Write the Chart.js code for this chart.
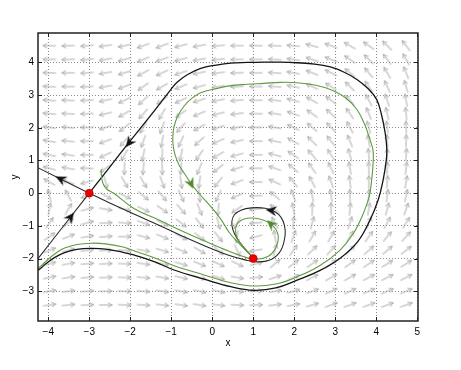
<!DOCTYPE html>
<html><head><meta charset="utf-8">
<script src="https://cdn.jsdelivr.net/npm/chart.js@4.4.1/dist/chart.umd.min.js"></script>
<style>html,body{margin:0;padding:0;background:#fff}</style>
</head><body>
<canvas id="c" width="461" height="370"></canvas>
<script>
// ---------- axes ----------
const xMin = -4.25, xMax = 5.02, yMin = -3.91, yMax = 4.9;
const xTicks = [-4, -3, -2, -1, 0, 1, 2, 3, 4, 5];
const yTicks = [-3, -2, -1, 0, 1, 2, 3, 4];

// ---------- direction field (grid + arrow angles in degrees) ----------
const fieldX = [-3.97,-3.51,-3.05,-2.60,-2.14,-1.68,-1.22,-0.76,-0.31,0.15,0.61,1.07,1.53,1.98,2.44,2.90,3.36,3.82,4.27,4.73];
const fieldY = [4.51,4.09,3.68,3.26,2.84,2.43,2.01,1.59,1.17,0.76,0.34,-0.08,-0.49,-0.91,-1.33,-1.75,-2.16,-2.58,-3.00,-3.42];
const fieldAngles = [
 [180,182,185,188,192, 200,200,195,190,185, 180,180,178,175,165, 160,150,145,135,128],
 [180,182,185,190,195, 203,200,195,190,186, 181,180,177,172,162, 158,145,135,128,120],
 [178,180,184,190,197, 208,205,198,192,187, 182,180,176,170,158, 153,140,130,120,112],
 [177,179,183,190,200, 215,210,202,195,189, 183,180,175,168,155, 148,135,125,115,106],
 [176,178,182,192,205, 222,215,205,197,191, 185,180,174,165,150, 143,130,118,108,100],
 [175,177,182,193,210, 228,240,215,203,194, 187,180,172,160,145, 138,124,112,103,95],
 [173,176,180,197,218, 238,250,228,210,198, 190,180,170,155,140, 133,118,105,97,92],
 [170,174,180,200,228, 250,260,245,222,203, 192,180,168,150,135, 128,112,100,93,88],
 [168,172,180,205,240, 258,268,258,235,210, 195,180,165,145,130, 122,105,95,90,85],
 [165,170,178,215,268, 265,272,265,248,218, 198,180,160,140,125, 115,100,92,87,83],
 [150,160,195,285,300, 300,290,278,262,232, 200,180,155,130,118, 110,97,90,85,80],
 [105,118,200,330,333, 320,310,295,275,245, 205,182,140,110,100, 100,92,87,82,78],
 [80,60,15,350,345, 335,325,312,292,265, 215,188,135,100,90, 90,85,80,75,70],
 [55,40,15,3,355, 340,332,322,308,285, 240,185,118,85,75, 75,72,68,62,58],
 [35,22,10,4,0, 345,338,332,322,308, 262,195,100,70,60, 60,58,55,50,48],
 [22,15,8,3,358, 350,343,338,330,318, 295,190,75,55,45, 48,45,42,40,38],
 [15,10,5,2,358, 352,347,343,338,335, 335,15,40,38,35, 38,36,34,32,32],
 [12,8,5,2,358, 354,350,347,344,342, 350,5,18,24,27, 30,29,28,27,27],
 [10,7,4,1,358, 355,352,350,348,348, 355,3,10,16,20, 25,24,23,23,23],
 [8,6,3,0,357, 356,354,352,351,352, 357,2,6,11,15, 20,20,20,20,20]
];

// ---------- trajectories ----------
const blackOrbitX = [-4.35,-4.22,-4.05,-3.85,-3.6,-3.3,-2.96,-2.6,-2.2,-1.91,-1.4,-0.93,-0.2,0.45,1.01,1.55,2.07,2.62,3.12,3.55,3.85,4.05,4.17,4.24,4.26,4.22,4.13,4.01,3.8,3.53,3.22,2.88,2.5,2.07,1.66,1.26,0.85,0.45,0.1,-0.28,-0.6,-0.85,-1.01,-1.5,-2.0,-2.5,-3.0];
const blackOrbitY = [-2.40,-2.33,-2.15,-1.97,-1.82,-1.72,-1.69,-1.71,-1.80,-1.89,-2.10,-2.35,-2.63,-2.86,-2.97,-2.90,-2.66,-2.37,-1.99,-1.48,-0.82,-0.2,0.41,0.95,1.33,1.84,2.40,2.87,3.20,3.48,3.70,3.86,3.95,3.99,4.01,4.01,4.0,3.98,3.92,3.82,3.63,3.40,3.17,2.38,1.6,0.8,0.0];
const greenOrbitX = [-4.35,-4.22,-4.0,-3.8,-3.6,-3.3,-2.96,-2.6,-2.2,-1.91,-1.4,-0.93,-0.2,0.45,1.01,1.55,2.07,2.62,3.12,3.45,3.69,3.83,3.89,3.93,3.92,3.85,3.72,3.53,3.25,2.88,2.5,2.07,1.66,1.26,0.85,0.45,0.1,-0.28,-0.5,-0.69,-0.84,-0.93,-0.96,-0.95,-0.9,-0.8,-0.65,-0.49,-0.3,-0.05,0.2,0.42,0.6,0.78,1.0];
const greenOrbitY = [-2.33,-2.27,-2.02,-1.82,-1.68,-1.57,-1.53,-1.55,-1.64,-1.76,-1.98,-2.22,-2.50,-2.74,-2.84,-2.78,-2.56,-2.22,-1.74,-1.22,-0.61,-0.1,0.41,1.02,1.33,1.63,2.1,2.56,2.92,3.17,3.31,3.38,3.39,3.36,3.33,3.29,3.2,3.07,2.9,2.66,2.36,2.04,1.73,1.43,1.15,0.84,0.55,0.25,-0.04,-0.39,-0.78,-1.21,-1.47,-1.70,-1.97];
const unstableRightX = [-3.0,-2.5,-1.91,-1.3,-0.75,-0.15,0.40,0.80,1.13,1.45,1.68,1.78,1.76,1.68,1.52,1.29,0.96,0.70,0.54,0.48,0.50,0.60,0.78,1.0];
const unstableRightY = [0.0,-0.30,-0.64,-0.98,-1.30,-1.63,-1.90,-2.04,-2.10,-2.02,-1.74,-1.26,-0.98,-0.74,-0.56,-0.46,-0.45,-0.52,-0.66,-0.86,-1.10,-1.37,-1.67,-1.97];
const greenSpiralX = [-2.71,-2.70,-2.66,-2.57,-2.40,-1.91,-1.3,-0.75,-0.15,0.40,0.72,1.05,1.37,1.54,1.61,1.59,1.50,1.34,1.13,0.90,0.72,0.60,0.57,0.62,0.78,1.0];
const greenSpiralY = [0.72,0.50,0.28,0.12,0.0,-0.47,-0.82,-1.15,-1.48,-1.77,-1.92,-2.03,-1.93,-1.70,-1.42,-1.20,-1.02,-0.87,-0.78,-0.76,-0.82,-0.96,-1.16,-1.40,-1.68,-1.97];
const stableLowerX = [-4.35,-3.0];
const stableLowerY = [-2.16,0.0];
const unstableLeftX = [-3.0,-4.35];
const unstableLeftY = [0.0,0.84];

// ---------- arrowheads on trajectories ----------
const blackHeadX = [-2.02,-3.69,-3.46,1.45];
const blackHeadY = [1.55,0.43,-0.74,-0.53];
const blackHeadAngle = [232,154,52,172];
const greenHeadX = [-0.52,1.44];
const greenHeadY = [0.30,-0.95];
const greenHeadAngle = [295,138];

// ---------- equilibria ----------
const eqX = [-3, 1];
const eqY = [0, -2];

// ---------- glyphs ----------
function makeFieldArrow() {
  const c = document.createElement('canvas'); c.width = 16; c.height = 16;
  const g = c.getContext('2d');
  g.strokeStyle = '#aeaeae'; g.lineWidth = 1;
  g.beginPath();
  g.moveTo(1.5, 8); g.lineTo(14.5, 8);
  g.moveTo(10.3, 5.7); g.lineTo(14.5, 8); g.lineTo(10.3, 10.3);
  g.stroke();
  return c;
}
function makeHead(color) {
  const c = document.createElement('canvas'); c.width = 16; c.height = 16;
  const g = c.getContext('2d');
  g.fillStyle = color;
  g.beginPath();
  g.moveTo(14, 8); g.lineTo(3, 3); g.lineTo(6.5, 8); g.lineTo(3, 13); g.closePath();
  g.fill();
  return c;
}
const fieldGlyph = makeFieldArrow();
const blackHead = makeHead('#111');
const greenHead = makeHead('#4f8a2e');

const zip = (xs, ys) => xs.map((x, i) => ({x, y: ys[i]}));
const fieldPts = [], fieldAng = [];
fieldY.forEach((y, j) => fieldX.forEach((x, i) => { fieldPts.push({x, y}); fieldAng.push(fieldAngles[j][i]); }));

const lineDs = (xs, ys, color, w, order) => ({
  type: 'line', data: zip(xs, ys), borderColor: color, borderWidth: w,
  pointRadius: 0, fill: false, tension: 0.4, order
});

const framePlugin = {
  id: 'frame',
  afterDraw(chart) {
    const {ctx, chartArea: a, scales: {x, y}} = chart;
    ctx.save();
    ctx.strokeStyle = '#222'; ctx.lineWidth = 1;
    ctx.beginPath();
    xTicks.forEach(v => {
      const px = Math.round(x.getPixelForValue(v)) + 0.5;
      ctx.moveTo(px, a.bottom); ctx.lineTo(px, a.bottom - 4);
      ctx.moveTo(px, a.top); ctx.lineTo(px, a.top + 4);
    });
    yTicks.forEach(v => {
      const py = Math.round(y.getPixelForValue(v)) + 0.5;
      ctx.moveTo(a.left, py); ctx.lineTo(a.left + 4, py);
      ctx.moveTo(a.right, py); ctx.lineTo(a.right - 4, py);
    });
    ctx.stroke();
    ctx.lineWidth = 1.5;
    ctx.strokeRect(a.left, a.top, a.right - a.left, a.bottom - a.top);
    ctx.restore();
  }
};

const fmt = v => (v < 0 ? '\u2212' + Math.abs(v) : String(v));
Chart.defaults.font.family = '"Liberation Sans", Arial, Helvetica, sans-serif';
Chart.defaults.color = '#000';

new Chart(document.getElementById('c'), {
  type: 'scatter',
  data: {
    datasets: [
      { type: 'scatter', data: fieldPts, pointStyle: fieldGlyph, pointRadius: 7,
        pointRotation: ctx => -fieldAng[ctx.dataIndex], order: 10 },
      lineDs(blackOrbitX, blackOrbitY, '#141414', 1.3, 5),
      lineDs(greenOrbitX, greenOrbitY, '#5f9a3e', 1.1, 4),
      lineDs(unstableRightX, unstableRightY, '#2a2a2a', 1.1, 5),
      lineDs(greenSpiralX, greenSpiralY, '#5f9a3e', 1.1, 4),
      lineDs(stableLowerX, stableLowerY, '#2a2a2a', 1.1, 5),
      lineDs(unstableLeftX, unstableLeftY, '#2a2a2a', 1.1, 5),
      { type: 'scatter', data: zip(blackHeadX, blackHeadY), pointStyle: blackHead, pointRadius: 7,
        pointRotation: ctx => -blackHeadAngle[ctx.dataIndex], order: 2 },
      { type: 'scatter', data: zip(greenHeadX, greenHeadY), pointStyle: greenHead, pointRadius: 7,
        pointRotation: ctx => -greenHeadAngle[ctx.dataIndex], order: 2 },
      { type: 'scatter', data: zip(eqX, eqY), pointStyle: 'circle', pointRadius: 4,
        backgroundColor: '#ee0000', borderColor: '#b00000', borderWidth: 0.6, order: 0 }
    ]
  },
  options: {
    responsive: false, devicePixelRatio: 1, animation: false, events: [],
    layout: { padding: { left: 0, top: 33, right: 43, bottom: 0 } },
    plugins: { legend: { display: false }, tooltip: { enabled: false } },
    scales: {
      x: {
        type: 'linear', min: xMin, max: xMax,
        afterBuildTicks: s => { s.ticks = xTicks.map(v => ({value: v})); },
        afterFit: s => { s.height = 49; },
        grid: { color: '#8a8a8a', lineWidth: 1, drawTicks: false },
        border: { display: false, dash: [1, 2] },
        ticks: { padding: 5, font: { size: 10 }, callback: fmt, maxRotation: 0, autoSkip: false },
        title: { display: true, text: 'x', font: { size: 10 }, padding: { top: 0, bottom: 21 } }
      },
      y: {
        type: 'linear', min: yMin, max: yMax,
        afterBuildTicks: s => { s.ticks = yTicks.map(v => ({value: v})); },
        afterFit: s => { s.width = 38; },
        grid: { color: '#8a8a8a', lineWidth: 1, drawTicks: false },
        border: { display: false, dash: [1, 2] },
        ticks: { padding: 4, font: { size: 10 }, callback: fmt, autoSkip: false },
        title: { display: true, text: 'y', font: { size: 10 }, padding: { top: 9, bottom: 0 } }
      }
    }
  },
  plugins: [framePlugin]
});
</script>
</body></html>
